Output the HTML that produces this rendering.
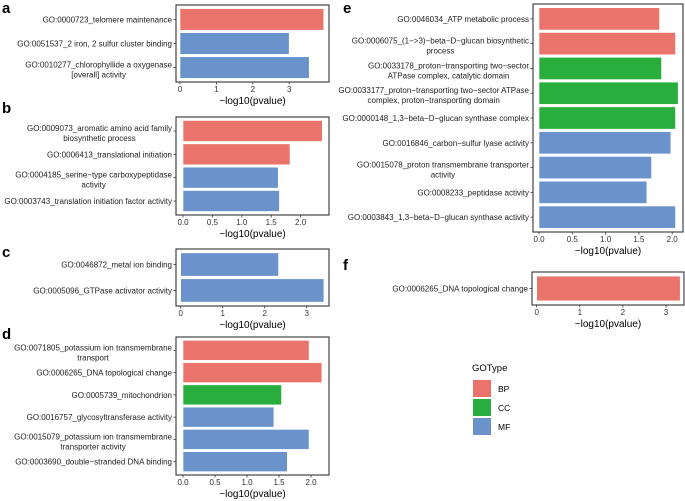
<!DOCTYPE html>
<html><head><meta charset="utf-8"><style>
html,body{margin:0;padding:0;background:#fff;}
svg{display:block;font-family:"Liberation Sans",Arial,sans-serif;}
</style></head><body>
<svg id="chart" width="685" height="501" viewBox="0 0 685 501" xmlns="http://www.w3.org/2000/svg"></svg>
<script>
// ---- data ----
const aTerms = ["GO:0000723_telomere maintenance|","GO:0051537_2 iron, 2 sulfur cluster binding|","GO:0010277_chlorophyllide a oxygenase|[overall] activity"];
const aValues = [3.95, 3.0, 3.55];
const aTypes = ["BP","MF","MF"];
const aTicks = ["0","1","2","3"];

const bTerms = ["GO:0009073_aromatic amino acid family|biosynthetic process","GO:0006413_translational initiation|","GO:0004185_serine\u2212type carboxypeptidase|activity","GO:0003743_translation initiation factor activity|"];
const bValues = [2.37, 1.82, 1.62, 1.64];
const bTypes = ["BP","BP","MF","MF"];
const bTicks = ["0.0","0.5","1.0","1.5","2.0"];

const cTerms = ["GO:0046872_metal ion binding|","GO:0005096_GTPase activator activity|"];
const cValues = [2.33, 3.41];
const cTypes = ["MF","MF"];
const cTicks = ["0","1","2","3"];

const dTerms = ["GO:0071805_potassium ion transmembrane|transport","GO:0006265_DNA topological change|","GO:0005739_mitochondrion|","GO:0016757_glycosyltransferase activity|","GO:0015079_potassium ion transmembrane|transporter activity","GO:0003690_double\u2212stranded DNA binding|"];
const dValues = [1.97, 2.17, 1.54, 1.42, 1.97, 1.63];
const dTypes = ["BP","BP","CC","MF","MF","MF"];
const dTicks = ["0.0","0.5","1.0","1.5","2.0"];

const eTerms = ["GO:0046034_ATP metabolic process|","GO:0006075_(1\u2212>3)\u2212beta\u2212D\u2212glucan biosynthetic|process","GO:0033178_proton\u2212transporting two\u2212sector|ATPase complex, catalytic domain","GO:0033177_proton\u2212transporting two\u2212sector ATPase|complex, proton\u2212transporting domain","GO:0000148_1,3\u2212beta\u2212D\u2212glucan synthase complex|","GO:0016846_carbon\u2212sulfur lyase activity|","GO:0015078_proton transmembrane transporter|activity","GO:0008233_peptidase activity|","GO:0003843_1,3\u2212beta\u2212D\u2212glucan synthase activity|"];
const eValues = [1.81, 2.05, 1.84, 2.09, 2.05, 1.98, 1.69, 1.62, 2.05];
const eTypes = ["BP","BP","CC","CC","CC","MF","MF","MF","MF"];
const eTicks = ["0.0","0.5","1.0","1.5","2.0"];

const fTerms = ["GO:0006265_DNA topological change|"];
const fValues = [3.33];
const fTypes = ["BP"];
const fTicks = ["0","1","2","3"];

const legendTypes = ["BP","CC","MF"];

// ---- layout ----
const COLORS = {BP:"#EA736B", CC:"#29AD3D", MF:"#6A93CC"};
const svg = document.getElementById('chart');
const NS = "http://www.w3.org/2000/svg";
function mk(tag, attrs, parent){ const e=document.createElementNS(NS,tag); for(const k in attrs) e.setAttribute(k,attrs[k]); (parent||svg).appendChild(e); return e; }

function panel(letter, lx, ly, box, x0, k, terms, values, types, ticks){
  const g = mk('g',{});
  
  
  const L = mk('text',{x:lx,y:ly,'font-size':15,'font-weight':'bold',fill:'#000'},g);
  L.textContent = letter;
  
  
  const xs = v => x0 + v*k;
  const n = terms.length;
  const H = box.b - box.t;
  const unit = H/(n+0.2);
  terms.forEach((t,i)=>{
    const cy = box.t + unit*(0.6+i);
    const r = mk('rect',{x:xs(0),y:cy-unit*0.45,width:xs(values[i])-xs(0),height:unit*0.9,fill:COLORS[types[i]],stroke:'#fff','stroke-width':0.6},g);
    
    
    mk('line',{x1:box.l-2.5,x2:box.l,y1:cy,y2:cy,stroke:'#333','stroke-width':0.8},g);
    const lines = t.split('|').filter(s=>s.length);
    const off = lines.length>1 ? -3 : 0;
    const tx = mk('text',{'font-size':8,fill:'#222','text-anchor':'end'},g);
    
    
    lines.forEach((s,j)=>{
      const sp = mk('tspan',{x: box.l-4, y: cy+3+off+j*10},tx);
      if(j>0){ sp.setAttribute('text-anchor','middle'); sp.setAttribute('x', box.l-4 - measureW(lines[0])/2); }
      sp.textContent = s;
    });
  });
  const fr = mk('rect',{x:box.l,y:box.t,width:box.r-box.l,height:H,fill:'none',stroke:'#333','stroke-width':1.1},g);
  
  
  ticks.forEach(tv=>{
    const x = xs(parseFloat(tv));
    mk('line',{x1:x,x2:x,y1:box.b,y2:box.b+2.5,stroke:'#333','stroke-width':0.8},g);
    const tt = mk('text',{x:x,y:box.b+10,'font-size':8,fill:'#333','text-anchor':'middle'},g);
    tt.textContent = tv;
    
    
  });
  const at = mk('text',{x:(box.l+box.r)/2,y:box.b+22,'font-size':10,fill:'#000','text-anchor':'middle'},g);
  at.textContent = '\u2212log10(pvalue)';
  
  
}
let _m;
function measureW(s){
  if(!_m){ _m = mk('text',{'font-size':8,x:-1000,y:-1000}); }
  _m.textContent = s; return _m.getComputedTextLength();
}

panel('a', 2, 13, {l:176,r:329,t:5,b:82}, 180, 36.4, aTerms, aValues, aTypes, aTicks);
panel('b', 2, 113, {l:176,r:329,t:117,b:215}, 183, 58.8, bTerms, bValues, bTypes, bTicks);
panel('c', 2, 257, {l:176,r:329,t:249,b:306}, 180.7, 42, cTerms, cValues, cTypes, cTicks);
panel('d', 2, 339, {l:176,r:329,t:337,b:475}, 183, 64, dTerms, dValues, dTypes, dTicks);
panel('e', 343, 13, {l:533,r:683,t:4,b:232}, 539, 66.6, eTerms, eValues, eTypes, eTicks);
panel('f', 343, 270, {l:532,r:684,t:272,b:305}, 536.7, 43.1, fTerms, fValues, fTypes, fTicks);

// legend
const lg = mk('g',{});


const lt = mk('text',{x:472,y:371,'font-size':9.5,fill:'#000'},lg);
lt.textContent = 'GOType';


legendTypes.forEach((t,i)=>{
  const y = 380 + i*19;
  const r = mk('rect',{x:473,y:y,width:18,height:17,fill:COLORS[t]},lg);
  
  
  const tx = mk('text',{x:498,y:y+12,'font-size':8.5,fill:'#000'},lg);
  tx.textContent = t;
  
  
});
if(_m) _m.remove();
</script>
</body></html>
